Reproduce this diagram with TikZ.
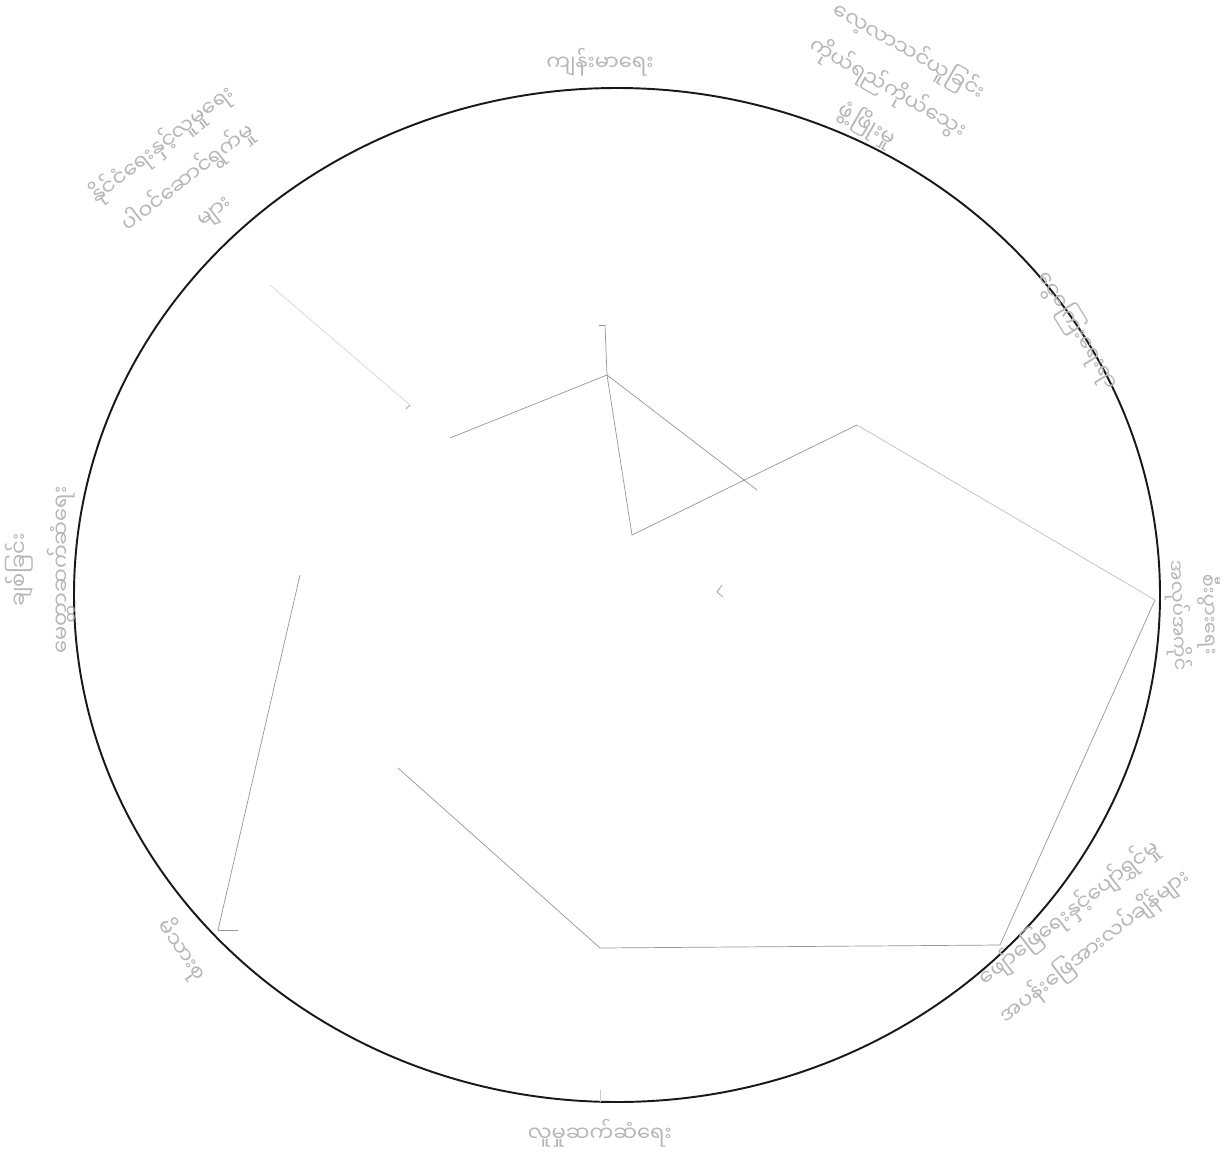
\documentclass[tikz,border=0pt]{standalone}
\usepackage{fontspec}
\usepackage{tikz}
\usetikzlibrary{calc}
\newfontfamily\mmfont[Script=Myanmar]{Noto Sans Myanmar UI}
\definecolor{pencil}{RGB}{150,150,150}
\definecolor{inkline}{RGB}{25,25,25}

\begin{document}
\begin{tikzpicture}[x=0.02cm, y=-0.02cm,
    label/.style={text=pencil!70, font=\mmfont\fontsize{12}{24}\selectfont, align=center, inner sep=1pt},
    spoke/.style={draw=pencil, line width=0.4pt}]
    \fill[white] (0,0) rectangle (1220,1156);
    \useasboundingbox (0,0) rectangle (1220,1156);
    % Circle
    \draw[inkline, line width=1.1pt] (617,595) ellipse [x radius=543, y radius=507];
    % Points
    \coordinate (tick) at (605,325);
    \coordinate (top) at (607,375);
    \coordinate (in) at (632,535);
    \coordinate (ur) at (857,425);
    \coordinate (cross) at (757,490);
    \coordinate (ul) at (450,438);
    \coordinate (right) at (1155,600);
    \coordinate (br) at (1000,945);
    \coordinate (bot) at (600,948);
    \coordinate (mid) at (398,768);
    \coordinate (left) at (300,575);
    \coordinate (bl) at (218,930);
    \coordinate (tl) at (270,285);
    \coordinate (tlend) at (410,405);
    % Lines
    \draw[spoke] (tick) -- (top) -- (in) -- (ur);
    \draw[spoke] (top) -- (cross);
    \draw[spoke] (top) -- (ul);
    \draw[spoke, draw=pencil!60] (ur) -- (right);
    \draw[spoke] (right) -- (br) -- (bot) -- (mid);
    \draw[spoke] (left) -- (bl);
    \draw[spoke, draw=pencil!40] (tl) -- (tlend);
    \draw[spoke] (tick) -- ++(-6,0);
    \draw[spoke] (bl) -- ++(20,0);
    \draw[spoke] (tlend) -- ++(-4,4);
    \draw[spoke] (722,585) -- (717,592) -- (723,597);
    \draw[spoke, draw=pencil!50] (600,1090) -- (600,1102);
    % Labels
    \node[label] (health) at (600,62) {ကျန်းမာရေး};
    \node[label, rotate=-30] (study) at (888,88) {လေ့လာသင်ယူခြင်း\\ကိုယ်ရည်ကိုယ်သွေး\\ဖွံ့ဖြိုးမှု};
    \node[label, rotate=-58] (money) at (1078,330) {ငွေကြေးရေးရာ};
    \node[label, rotate=-88, font=\mmfont\fontsize{11}{18}\selectfont] (work) at (1194,615) {စီးပွားရေး\\အလုပ်အကိုင်};
    \node[label, rotate=38] (fun) at (1082,930) {ဖျော်ဖြေရေးနှင့်ပျော်ရွှင်မှု\\အပန်းဖြေအားလပ်ချိန်များ};
    \node[label] (social) at (600,1133) {လူမှုဆက်ဆံရေး};
    \node[label, rotate=-55] (family) at (182,950) {မိသားစု};
    \node[label, rotate=90] (love) at (40,570) {ချစ်ခြင်း\\မေတ္တာဆက်ဆံရေး};
    \node[label, rotate=38] (civic) at (188,178) {နိုင်ငံရေးနှင့်လူမှုရေး\\ပါဝင်ဆောင်ရွက်မှု\\များ};
\end{tikzpicture}
\end{document}
